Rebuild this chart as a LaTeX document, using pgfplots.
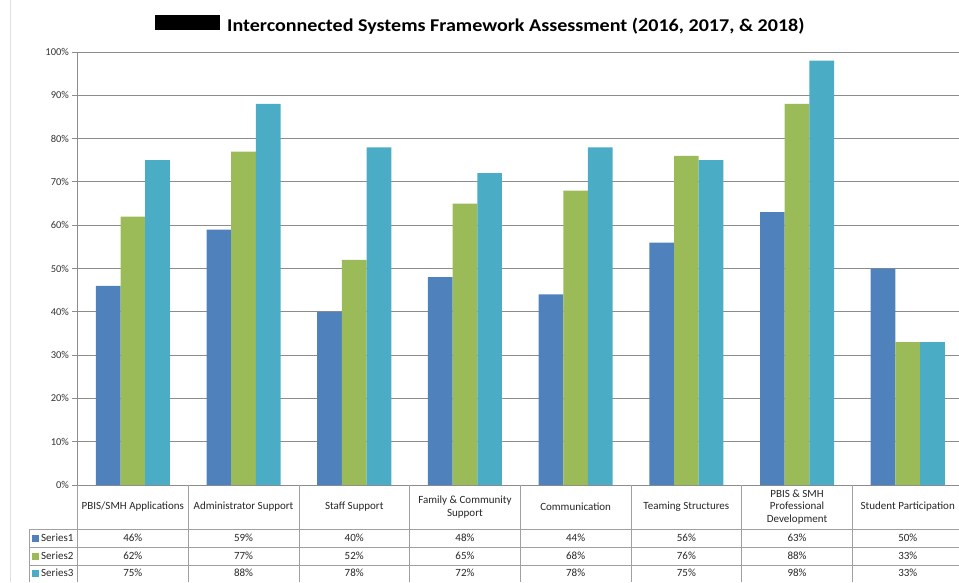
\documentclass[border=0pt]{standalone}
\usepackage{pgfplots}
\pgfplotsset{compat=1.18}
\usepackage{fontspec}
\setmainfont{Carlito}
\definecolor{s1}{HTML}{4F81BD}
\definecolor{s2}{HTML}{9BBB59}
\definecolor{s3}{HTML}{4BACC6}
\definecolor{gridc}{HTML}{8C8C8C}
\definecolor{tabc}{HTML}{A0A0A0}
\begin{document}
\begin{tikzpicture}[x=1pt,y=1pt]
\path[use as bounding box] (0,0) rectangle (959,582);
\draw[black!12, line width=0.8pt] (10,0) -- (10,582);
% title
\fill[black] (155,552) rectangle (220,567);
\node[anchor=base west, inner sep=0pt, font=\fontsize{18}{20}\selectfont\bfseries] at (227,550.5) {\scalebox{1.115}[1]{Interconnected Systems Framework Assessment (2016, 2017, \& 2018)}};
\begin{axis}[
  at={(77.5pt,97pt)}, anchor=south west,
  scale only axis, width=885.6pt, height=433pt,
  xmin=-0.5, xmax=7.5, ymin=0, ymax=100,
  ybar=0pt, bar width=0.223,
  axis x line*=bottom, axis y line*=left,
  axis line style={gridc, line width=0.8pt, -},
  xtick=\empty,
  ytick={0,10,...,100},
  yticklabel={\pgfmathprintnumber{\tick}\%},
  ymajorgrids, grid style={gridc, line width=0.8pt},
  tick style={gridc, line width=0.8pt}, tick align=outside, major tick length=5pt,
  yticklabel style={font=\fontsize{10.5}{12}\selectfont, text=black!80},
  /pgf/number format/assume math mode=true,
  clip=false,
]
\addplot[fill=s1, draw=none] coordinates {(0,46)(1,59)(2,40)(3,48)(4,44)(5,56)(6,63)(7,50)};
\addplot[fill=s2, draw=none] coordinates {(0,62)(1,77)(2,52)(3,65)(4,68)(5,76)(6,88)(7,33)};
\addplot[fill=s3, draw=none] coordinates {(0,75)(1,88)(2,78)(3,72)(4,78)(5,75)(6,98)(7,33)};
\end{axis}
% data table
\begin{scope}[tabc, line width=0.8pt]
\draw (29,53) -- (963,53);
\draw (29,35) -- (963,35);
\draw (29,17) -- (963,17);
\draw (29,53) -- (29,0);
\foreach \xx in {77.5,188.2,298.9,409.6,520.3,631,741.7,852.4} \draw (\xx,97) -- (\xx,0);
\end{scope}
\begin{scope}[every node/.style={font=\fontsize{11}{12.5}\selectfont, text=black!85, align=center, inner sep=0pt}]
\foreach \lab [count=\i from 0] in {PBIS/SMH Applications, Administrator Support, Staff Support, {Family \& Community\\Support}, Communication, Teaming Structures, {PBIS \& SMH\\Professional\\Development}, Student Participation}
  \node at ({132.85+\i*110.7},75) {\lab};
\foreach \v [count=\i from 0] in {46,59,40,48,44,56,63,50}
  \node at ({132.85+\i*110.7},44) {\v\%};
\foreach \v [count=\i from 0] in {62,77,52,65,68,76,88,33}
  \node at ({132.85+\i*110.7},26) {\v\%};
\foreach \v [count=\i from 0] in {75,88,78,72,78,75,98,33}
  \node at ({132.85+\i*110.7},9) {\v\%};
\fill[s1] (32,40.5) rectangle (39,47.5);
\fill[s2] (32,22.5) rectangle (39,29.5);
\fill[s3] (32,5.5) rectangle (39,12.5);
\node[anchor=west] at (41,44) {Series1};
\node[anchor=west] at (41,26) {Series2};
\node[anchor=west] at (41,9) {Series3};
\end{scope}
\end{tikzpicture}
\end{document}
